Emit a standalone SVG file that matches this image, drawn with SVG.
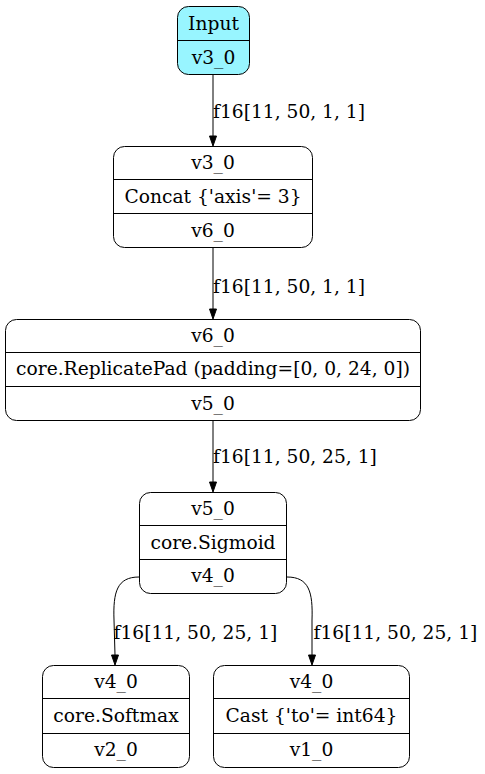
<svg xmlns="http://www.w3.org/2000/svg" width="485" height="774" viewBox="0 0 485 774">
<style>
  text { font-family: "DejaVu Serif", "Liberation Serif", serif; font-size: 18.67px; fill: #000; }
  .c { text-anchor: middle; }
  .box { fill: #fff; stroke: #000; stroke-width: 1; }
  .inp { fill: #98f5ff; }
  .div { stroke: #000; stroke-width: 1; }
  .edge { fill: none; stroke: #000; stroke-width: 1; }
  .head { fill: #000; stroke: #000; stroke-width: 1; }
</style>
<rect width="485" height="774" fill="#fff"/>

<g id="connectors">
  <path class="edge" d="M213,74 L213,136"/>
  <polygon class="head" points="209.5,136 216.5,136 213,146"/>
  <text x="213" y="117.5">f16[11, 50, 1, 1]</text>

  <path class="edge" d="M213,248 L213,309"/>
  <polygon class="head" points="209.5,309 216.5,309 213,319"/>
  <text x="213" y="292.5">f16[11, 50, 1, 1]</text>

  <path class="edge" d="M213,421 L213,482"/>
  <polygon class="head" points="209.5,482 216.5,482 213,492"/>
  <text x="213" y="463">f16[11, 50, 25, 1]</text>

  <path class="edge" d="M139,577 C117,577 113,592 114,620 L115,655"/>
  <polygon class="head" points="111.5,655 118.5,655 115,665"/>
  <text x="113.5" y="639">f16[11, 50, 25, 1]</text>

  <path class="edge" d="M287,577 C309,577 313,592 312,620 L312,655"/>
  <polygon class="head" points="308.5,655 315.5,655 312,665"/>
  <text x="313.5" y="639">f16[11, 50, 25, 1]</text>
</g>

<g id="input">
  <rect class="box inp" x="177.5" y="6.5" width="72" height="68" rx="11"/>
  <line class="div" x1="177.5" y1="40.5" x2="249.5" y2="40.5"/>
  <text class="c" x="213.5" y="29.5">Input</text>
  <text class="c" x="213.5" y="63.5">v3_0</text>
</g>

<g id="concat">
  <rect class="box" x="113.5" y="146.5" width="199" height="101" rx="11"/>
  <line class="div" x1="113.5" y1="179.5" x2="312.5" y2="179.5"/>
  <line class="div" x1="113.5" y1="213.5" x2="312.5" y2="213.5"/>
  <text class="c" x="213" y="169">v3_0</text>
  <text class="c" x="213" y="202.5">Concat {'axis'= 3}</text>
  <text class="c" x="213" y="236.5">v6_0</text>
</g>

<g id="replicatepad">
  <rect class="box" x="5.5" y="319.5" width="415" height="101" rx="11"/>
  <line class="div" x1="5.5" y1="352.5" x2="420.5" y2="352.5"/>
  <line class="div" x1="5.5" y1="386.5" x2="420.5" y2="386.5"/>
  <text class="c" x="213" y="341.5">v6_0</text>
  <text class="c" x="213" y="375">core.ReplicatePad (padding=[0, 0, 24, 0])</text>
  <text class="c" x="213" y="409.5">v5_0</text>
</g>

<g id="sigmoid">
  <rect class="box" x="139.5" y="492.5" width="147" height="101" rx="11"/>
  <line class="div" x1="139.5" y1="525.5" x2="286.5" y2="525.5"/>
  <line class="div" x1="139.5" y1="559.5" x2="286.5" y2="559.5"/>
  <text class="c" x="213" y="514.5">v5_0</text>
  <text class="c" x="213" y="548.5">core.Sigmoid</text>
  <text class="c" x="213" y="582">v4_0</text>
</g>

<g id="softmax">
  <rect class="box" x="42.5" y="665.5" width="147" height="102" rx="11"/>
  <line class="div" x1="42.5" y1="698.5" x2="189.5" y2="698.5"/>
  <line class="div" x1="42.5" y1="733.5" x2="189.5" y2="733.5"/>
  <text class="c" x="116" y="687.5">v4_0</text>
  <text class="c" x="116" y="721.5">core.Softmax</text>
  <text class="c" x="116" y="756">v2_0</text>
</g>

<g id="cast">
  <rect class="box" x="213.5" y="665.5" width="196" height="102" rx="11"/>
  <line class="div" x1="213.5" y1="698.5" x2="409.5" y2="698.5"/>
  <line class="div" x1="213.5" y1="733.5" x2="409.5" y2="733.5"/>
  <text class="c" x="311.5" y="687.5">v4_0</text>
  <text class="c" x="311.5" y="721.5">Cast {'to'= int64}</text>
  <text class="c" x="311.5" y="756">v1_0</text>
</g>
</svg>
